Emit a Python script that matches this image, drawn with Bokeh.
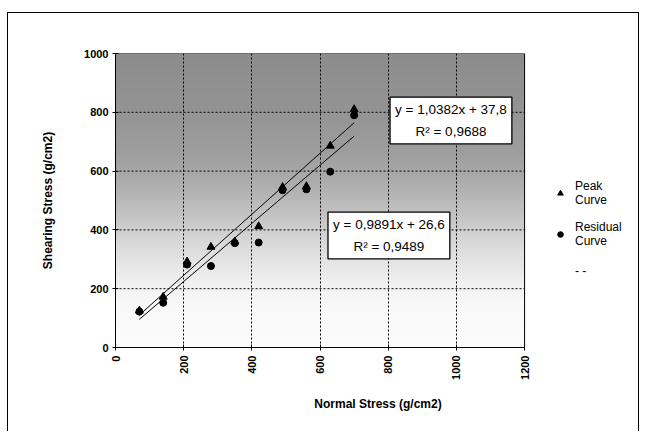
import numpy as np
from bokeh.plotting import figure
from bokeh.models import Range1d, Label, Legend, LegendItem, FixedTicker
from bokeh.embed import file_html
from bokeh.resources import INLINE

# Direct shear test results
normal_stress = [70, 140, 210, 280, 350, 420, 490, 560, 630, 700]
peak_stress = [125, 172, 292, 342, 360, 412, 545, 548, 686, 810]
residual_stress = [122, 152, 282, 277, 355, 357, 535, 538, 598, 790]

# Linear trendlines (slope, intercept, R²)
peak_fit = (1.0382, 37.8, 0.9688)
residual_fit = (0.9891, 26.6, 0.9489)

x_ticks = [0, 200, 400, 600, 800, 1000, 1200]
y_ticks = [0, 200, 400, 600, 800, 1000]
X_MAX, Y_MAX = 1200, 1000

FONT = "Liberation Sans"

# the frame runs on to the right edge so the legend can sit beside the plot area
p = figure(width=632, height=419, output_backend="svg", toolbar_location=None,
           x_range=Range1d(0, 1540), y_range=Range1d(0, Y_MAX),
           min_border_left=107, min_border_right=0, min_border_top=40, min_border_bottom=85)
p.margin = (12, 0, 0, 7)
p.styles = {"border-left": "1px solid black", "border-top": "1px solid black",
            "border-right": "1px solid black"}
p.background_fill_color = "white"
p.border_fill_color = "white"
p.outline_line_color = None

# shaded plot-area background, dark at the top fading to white
ny = 200
ys = np.linspace(0, 1, ny)
stops_y = [0.0, 0.15, 0.25, 0.35, 0.45, 0.55, 0.65, 0.8, 1.0]
stops_g = [252, 248, 236, 218, 196, 175, 160, 148, 140]
g = np.interp(ys, stops_y, stops_g).astype(np.uint32)
col = (255 << 24) | (g << 16) | (g << 8) | g
img = np.empty((ny, 2), dtype=np.uint32)
img[:, 0] = col
img[:, 1] = col
bg = p.image_rgba(image=[img], x=0, y=0, dw=X_MAX, dh=Y_MAX)
bg.level = "image"

# grid: vertical lines from the grid, horizontal ones only across the plot area
p.xgrid.ticker = FixedTicker(ticks=x_ticks[1:-1])
p.xgrid.grid_line_color = "black"
p.xgrid.grid_line_dash = "2 2"
p.xgrid.grid_line_width = 1
p.ygrid.grid_line_color = None
h_levels = y_ticks[1:-1]
p.multi_line([[0, X_MAX] for _ in h_levels], [[v, v] for v in h_levels],
             line_color="black", line_dash="2 2", line_width=1)

# plot-area border (top and right)
p.line([0, X_MAX, X_MAX], [Y_MAX, Y_MAX, 0], line_color="black", line_width=1)

# axes
p.xaxis.ticker = FixedTicker(ticks=x_ticks)
p.yaxis.ticker = FixedTicker(ticks=y_ticks)
p.xaxis.bounds = (0, X_MAX)
p.xaxis.major_label_orientation = np.pi / 2
p.xaxis.axis_label = "Normal Stress (g/cm2)"
p.yaxis.axis_label = "Shearing Stress (g/cm2)"
for ax in (p.xaxis, p.yaxis):
    ax.axis_line_color = "black"
    ax.major_tick_line_color = "black"
    ax.major_tick_in = 3
    ax.major_tick_out = 3
    ax.minor_tick_line_color = None
    ax.major_label_text_font = FONT
    ax.major_label_text_font_style = "bold"
    ax.major_label_text_font_size = "11px"
    ax.major_label_text_color = "black"
    ax.axis_label_text_font = FONT
    ax.axis_label_text_font_style = "bold"
    ax.axis_label_text_font_size = "12px"
    ax.axis_label_text_color = "black"
p.xaxis.major_label_standoff = 5
p.yaxis.major_label_standoff = 4
p.xaxis.axis_label_standoff = 14
p.yaxis.axis_label_standoff = 26

# trendlines over the data range
xs = np.array([min(normal_stress), max(normal_stress)])
m, b, _ = peak_fit
p.line(xs, m * xs + b, line_color="black", line_width=1)
m, b, _ = residual_fit
p.line(xs, m * xs + b, line_color="black", line_width=1)
trend_proxy = p.line([0, 0], [0, 0], line_color="black", line_alpha=0)

res = p.scatter(normal_stress, residual_stress, marker="circle", size=7,
                fill_color="black", line_color="black")
peak = p.scatter(normal_stress, peak_stress, marker="triangle", size=8,
                 fill_color="black", line_color="black")

# trendline equations
def fit_text(fit):
    m, b, r2 = fit
    return (f"y = {m:.4f}x + {b:.1f}".replace(".", ",") + "\n" +
            f"R² = {r2:.4f}".replace(".", ","))

for fit, (lx, ly) in ((peak_fit, (984, 772)), (residual_fit, (802, 381))):
    p.add_layout(Label(x=lx, y=ly, text=fit_text(fit), text_align="center",
                       text_baseline="middle", text_font=FONT, text_font_size="13.5px",
                       text_line_height=1.45, text_color="black",
                       background_fill_color="white",
                       border_line_color="black", border_line_width=1.3, padding=5))

legend = Legend(items=[LegendItem(label="Peak\nCurve", renderers=[peak]),
                       LegendItem(label="Residual\nCurve", renderers=[res]),
                       LegendItem(label="- -", renderers=[trend_proxy])],
                location=(438, 66), background_fill_alpha=0, border_line_color=None,
                label_text_font=FONT, label_text_font_size="12px",
                label_text_line_height=1.25, label_text_color="black",
                glyph_width=14, label_standoff=8, spacing=13, padding=0, margin=0)
p.add_layout(legend, "center")

open("out.html", "w").write(file_html(p, INLINE))
